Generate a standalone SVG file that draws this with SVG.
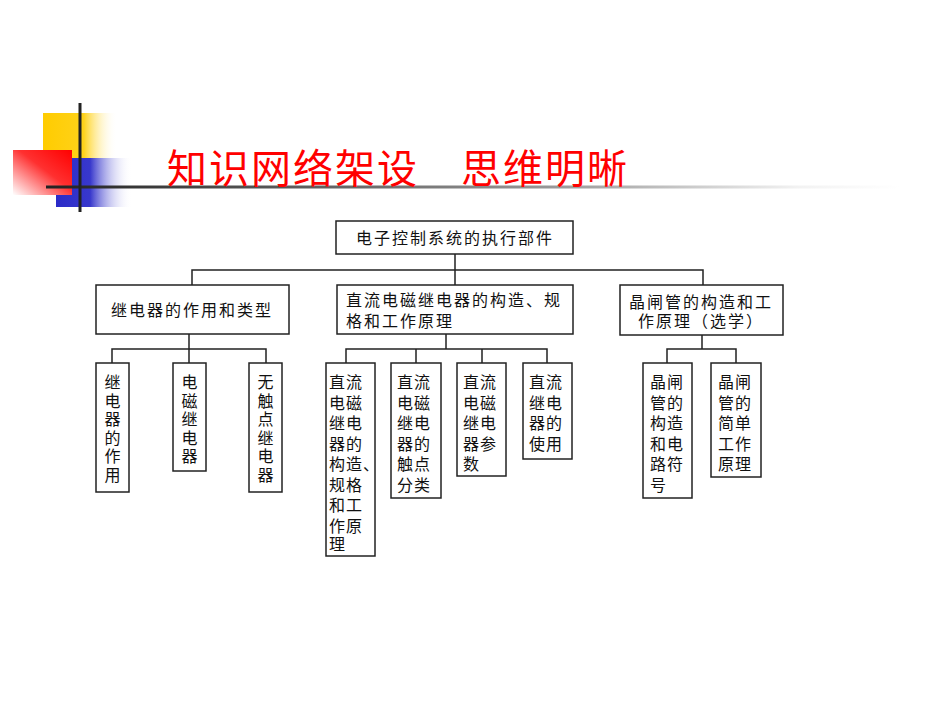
<svg xmlns="http://www.w3.org/2000/svg" width="950" height="713" viewBox="0 0 950 713">
<defs>
<linearGradient id="gY" x1="0" y1="0" x2="1" y2="0"><stop offset="0" stop-color="#FFCC00"/><stop offset="0.55" stop-color="#FFD21A"/><stop offset="1" stop-color="#FFFFFF" stop-opacity="0"/></linearGradient>
<linearGradient id="gB" x1="0" y1="0" x2="1" y2="0"><stop offset="0" stop-color="#2B2BC8"/><stop offset="0.45" stop-color="#3838CC"/><stop offset="1" stop-color="#FFFFFF" stop-opacity="0"/></linearGradient>
<linearGradient id="gR" x1="1" y1="0" x2="0" y2="1"><stop offset="0" stop-color="#FF0000"/><stop offset="0.45" stop-color="#FF3030"/><stop offset="1" stop-color="#FFFFFF"/></linearGradient>
<linearGradient id="gL" x1="46" y1="0" x2="900" y2="0" gradientUnits="userSpaceOnUse"><stop offset="0" stop-color="#222"/><stop offset="0.35" stop-color="#666"/><stop offset="0.6" stop-color="#999"/><stop offset="0.88" stop-color="#F2F2F2"/><stop offset="1" stop-color="#FFF"/></linearGradient>
</defs>
<style>
.box{fill:#fff;stroke:#222;stroke-width:1.5}
.ln{fill:none;stroke:#222;stroke-width:1.5}
.t{font-family:"Noto Sans CJK SC","Noto Sans",sans-serif;font-size:16px;fill:#111;letter-spacing:2px}
.v{font-family:"Noto Sans CJK SC","Noto Sans",sans-serif;font-size:16px;fill:#111;letter-spacing:1px}
.title{font-family:"Noto Sans CJK SC","Noto Sans",sans-serif;font-size:40px;fill:#FF0000;letter-spacing:2px}
</style>
<rect width="950" height="713" fill="#fff"/>
<g id="decor">
<rect x="43" y="113" width="74" height="45" fill="url(#gY)"/>
<rect x="56" y="158" width="76" height="49" fill="url(#gB)"/>
<rect x="13" y="150" width="59" height="45" fill="url(#gR)"/>
<rect x="46" y="185.5" width="854" height="3" fill="url(#gL)"/>
<rect x="78.5" y="103" width="3" height="109" fill="#222"/>
</g>
<g id="title"><text class="title" x="167" y="183">知识网络架设　思维明晰</text></g>
<g id="connectors">
<path class="ln" d="M455,254 V285 M192,285 V270 H703 V285"/>
<path class="ln" d="M189,334 V363 M112,363 V349 H266 V363"/>
<path class="ln" d="M446,334 V349 M346,363 V349 H547 V363 M416,349 V363 M482,349 V363"/>
<path class="ln" d="M702,335 V349 M667,363 V349 H736 V363"/>
</g>
<g id="root"><rect class="box" x="336" y="221" width="237" height="33"/><text class="t" x="356" y="244">电子控制系统的执行部件</text></g>
<g id="nA"><rect class="box" x="96" y="285" width="193" height="49"/><text class="t" x="111" y="316">继电器的作用和类型</text></g>
<g id="nB"><rect class="box" x="337" y="285" width="236" height="49"/><text class="t" x="346" y="306">直流电磁继电器的构造、规</text><text class="t" x="346" y="327">格和工作原理</text></g>
<g id="nC"><rect class="box" x="620" y="285" width="163" height="50"/><text class="t" x="629" y="308">晶闸管的构造和工</text><text class="t" x="638" y="327">作原理（选学）</text></g>
<g id="nA1"><rect class="box" x="96" y="363" width="33" height="129"/><text class="v" x="104.5"><tspan x="104.5" y="388">继</tspan><tspan x="104.5" y="406.5">电</tspan><tspan x="104.5" y="425">器</tspan><tspan x="104.5" y="443.5">的</tspan><tspan x="104.5" y="462">作</tspan><tspan x="104.5" y="480.5">用</tspan></text></g>
<g id="nA2"><rect class="box" x="173" y="363" width="33" height="108"/><text class="v" x="181.5"><tspan x="181.5" y="388">电</tspan><tspan x="181.5" y="406.5">磁</tspan><tspan x="181.5" y="425">继</tspan><tspan x="181.5" y="443.5">电</tspan><tspan x="181.5" y="462">器</tspan></text></g>
<g id="nA3"><rect class="box" x="249" y="363" width="33" height="129"/><text class="v" x="257.5"><tspan x="257.5" y="388">无</tspan><tspan x="257.5" y="406.5">触</tspan><tspan x="257.5" y="425">点</tspan><tspan x="257.5" y="443.5">继</tspan><tspan x="257.5" y="462">电</tspan><tspan x="257.5" y="480.5">器</tspan></text></g>
<g id="nB1"><rect class="box" x="326" y="363" width="49" height="193"/><text class="v"><tspan x="329" y="388">直流</tspan><tspan x="329" y="408.5">电磁</tspan><tspan x="329" y="429">继电</tspan><tspan x="329" y="449.5">器的</tspan><tspan x="329" y="470">构造、</tspan><tspan x="329" y="490.5">规格</tspan><tspan x="329" y="511">和工</tspan><tspan x="329" y="531.5">作原</tspan><tspan x="329" y="550">理</tspan></text></g>
<g id="nB2"><rect class="box" x="391" y="363" width="50" height="135"/><text class="v"><tspan x="397" y="388">直流</tspan><tspan x="397" y="408.5">电磁</tspan><tspan x="397" y="429">继电</tspan><tspan x="397" y="449.5">器的</tspan><tspan x="397" y="470">触点</tspan><tspan x="397" y="490.5">分类</tspan></text></g>
<g id="nB3"><rect class="box" x="457" y="363" width="49" height="113"/><text class="v"><tspan x="463" y="388">直流</tspan><tspan x="463" y="408.5">电磁</tspan><tspan x="463" y="429">继电</tspan><tspan x="463" y="449.5">器参</tspan><tspan x="463" y="470">数</tspan></text></g>
<g id="nB4"><rect class="box" x="523" y="363" width="49" height="96"/><text class="v"><tspan x="529" y="388">直流</tspan><tspan x="529" y="408.5">继电</tspan><tspan x="529" y="429">器的</tspan><tspan x="529" y="449.5">使用</tspan></text></g>
<g id="nC1"><rect class="box" x="643" y="363" width="49" height="135"/><text class="v"><tspan x="650" y="388">晶闸</tspan><tspan x="650" y="408.5">管的</tspan><tspan x="650" y="429">构造</tspan><tspan x="650" y="449.5">和电</tspan><tspan x="650" y="470">路符</tspan><tspan x="650" y="490.5">号</tspan></text></g>
<g id="nC2"><rect class="box" x="711" y="363" width="50" height="114"/><text class="v"><tspan x="718" y="388">晶闸</tspan><tspan x="718" y="408.5">管的</tspan><tspan x="718" y="429">简单</tspan><tspan x="718" y="449.5">工作</tspan><tspan x="718" y="470">原理</tspan></text></g>
</svg>
